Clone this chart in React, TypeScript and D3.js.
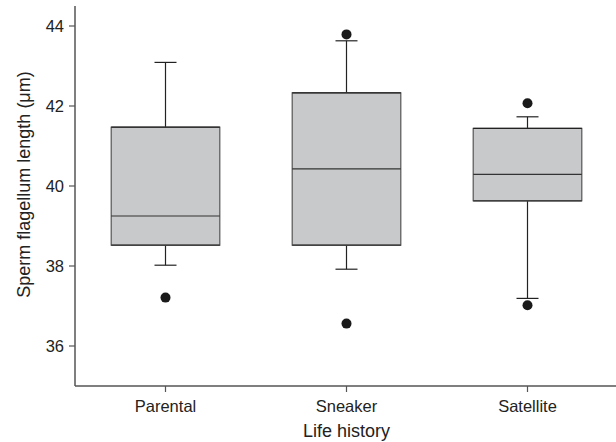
import React from "react";
import * as d3 from "d3";

const categories = ["Parental", "Sneaker", "Satellite"];
const q1 = [38.52, 38.52, 39.63];
const medians = [39.25, 40.43, 40.29];
const q3 = [41.47, 42.33, 41.44];
const whiskerLow = [38.02, 37.92, 37.19];
const whiskerHigh = [43.09, 43.63, 41.73];
const outliers = [[37.21], [43.79, 36.56], [42.07, 37.02]];
const yTicks = [36, 38, 40, 42, 44];

const W = 616;
const H = 442;

export default function App() {
  const x = d3.scaleBand<string>().domain(categories).range([75, 618]).padding(0);
  const y = d3.scaleLinear().domain([35, 44.5]).range([386, 6]);
  const bw = x.bandwidth() * 0.6;
  const cap = 22;
  const font = "'Liberation Sans', Arial, Helvetica, sans-serif";
  const axisColor = "#555";

  return (
    <svg
      width={W}
      height={H}
      style={{ position: "absolute", left: 0, top: 0, background: "#fff" }}
      fontFamily={font}
    >
      {categories.map((c, i) => {
        const cx = (x(c) as number) + x.bandwidth() / 2;
        return (
          <g key={c}>
            <line x1={cx} x2={cx} y1={y(q3[i])} y2={y(whiskerHigh[i])} stroke="#222" strokeWidth={1.2} />
            <line x1={cx - cap / 2} x2={cx + cap / 2} y1={y(whiskerHigh[i])} y2={y(whiskerHigh[i])} stroke="#222" strokeWidth={1.2} />
            <line x1={cx} x2={cx} y1={y(q1[i])} y2={y(whiskerLow[i])} stroke="#222" strokeWidth={1.2} />
            <line x1={cx - cap / 2} x2={cx + cap / 2} y1={y(whiskerLow[i])} y2={y(whiskerLow[i])} stroke="#222" strokeWidth={1.2} />
            <rect
              x={cx - bw / 2}
              y={y(q3[i])}
              width={bw}
              height={y(q1[i]) - y(q3[i])}
              fill="#c8c9cb"
              stroke="#555"
              strokeWidth={1.2}
            />
            <line x1={cx - bw / 2} x2={cx + bw / 2} y1={y(q3[i])} y2={y(q3[i])} stroke="#222" strokeWidth={1.2} />
            <line x1={cx - bw / 2} x2={cx + bw / 2} y1={y(q1[i])} y2={y(q1[i])} stroke="#333" strokeWidth={1.2} />
            <line x1={cx - bw / 2} x2={cx + bw / 2} y1={y(medians[i])} y2={y(medians[i])} stroke="#333" strokeWidth={1.2} />
            {outliers[i].map((v, j) => (
              <circle key={j} cx={cx} cy={y(v)} r={5} fill="#1a1a1a" />
            ))}
          </g>
        );
      })}

      {/* Y axis */}
      <line x1={75} x2={75} y1={6} y2={386} stroke={axisColor} strokeWidth={1.5} />
      {yTicks.map((t) => (
        <g key={t}>
          <line x1={69} x2={75} y1={y(t)} y2={y(t)} stroke={axisColor} strokeWidth={1.2} />
          <text x={64} y={y(t)} dy="0.35em" textAnchor="end" fontSize={16.5} fill="#222">
            {t}
          </text>
        </g>
      ))}
      {/* X axis */}
      <line x1={75} x2={616} y1={386} y2={386} stroke={axisColor} strokeWidth={1.5} />
      {categories.map((c) => {
        const cx = (x(c) as number) + x.bandwidth() / 2;
        return (
          <g key={c}>
            <line x1={cx} x2={cx} y1={386} y2={392} stroke={axisColor} strokeWidth={1.2} />
            <text x={cx} y={412} textAnchor="middle" fontSize={16.5} fill="#222">
              {c}
            </text>
          </g>
        );
      })}
      <text x={346.5} y={437} textAnchor="middle" fontSize={18} fill="#222">
        Life history
      </text>
      <text
        transform={`translate(30,184.5) rotate(-90)`}
        textAnchor="middle"
        fontSize={18}
        fill="#222"
      >
        Sperm flagellum length (μm)
      </text>
    </svg>
  );
}
